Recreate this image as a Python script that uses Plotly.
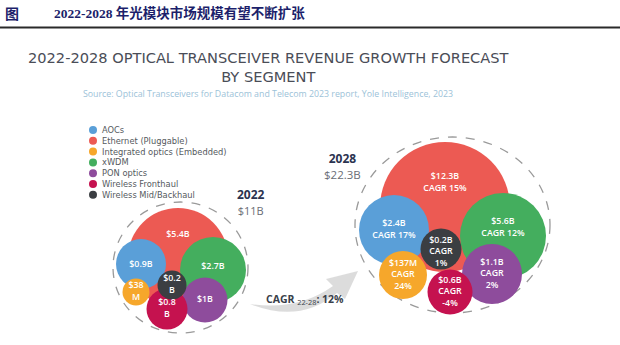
import plotly.graph_objects as go

# ---------------- data ----------------
segments = ["AOCs", "Ethernet (Pluggable)", "Integrated optics (Embedded)", "xWDM",
            "PON optics", "Wireless Fronthaul", "Wireless Mid/Backhaul"]
values_2022 = [0.9, 5.4, 0.038, 2.7, 1.0, 0.8, 0.2]          # $B
values_2028 = [2.4, 12.3, 0.137, 5.6, 1.1, 0.6, 0.2]         # $B
cagr_22_28 = [17, 15, 24, 12, 2, -4, 1]                      # %
total_2022 = 11
total_2028 = 22.3
total_cagr = 12

# ---------------- styles / layout ----------------
colors = ["#5a9fd8", "#ec5a53", "#f6a72b", "#44ae5e", "#8e4c9c", "#c5124f", "#3b3e42"]
draw_order = [1, 0, 3, 4, 2, 5, 6]

# bubble layout (pixel space): centers, diameters
cx22 = [141, 178, 136, 213, 205, 167, 172]
cy22 = [264, 258, 292, 270, 300, 309, 285]
d22 = [50, 100, 27, 66, 45, 41, 29]
lab_dy22 = [1, -23, 0, -3, 0, 0, 0]
wrap22 = [False, False, True, False, False, True, True]

cx28 = [394, 445, 403, 503, 492, 450, 441]
cy28 = [230, 207, 275, 236, 274, 292, 249]
d28 = [70, 130, 48, 86, 60, 45, 41]
lab_dy28 = [0, -24, 0, -8, 0, 0, 3]
wrap28 = [False, False, True, False, True, True, True]

FONT = "Open Sans, Lato, sans-serif"


def money(v, wrap):
    if v < 1 and round(v * 1000) % 100 != 0:
        num, unit = f"{round(v * 1000):d}", "M"
    else:
        s = f"{v:.1f}".rstrip("0").rstrip(".")
        num, unit = s, "B"
    return f"${num}<br>{unit}" if wrap else f"${num}{unit}"


labels22 = [money(v, w) for v, w in zip(values_2022, wrap22)]
labels28 = []
for v, c, w in zip(values_2028, cagr_22_28, wrap28):
    m = money(v, False)
    labels28.append(f"{m}<br>CAGR<br>{c}%" if w else f"{m}<br>CAGR {c}%")

fig = go.Figure()

# bubbles
for cx, cy, d, vals in [(cx22, cy22, d22, values_2022), (cx28, cy28, d28, values_2028)]:
    fig.add_trace(go.Scatter(
        x=[cx[i] for i in draw_order], y=[cy[i] for i in draw_order],
        mode="markers",
        marker=dict(size=[d[i] for i in draw_order], color=[colors[i] for i in draw_order],
                    opacity=1, line=dict(width=0)),
        customdata=[vals[i] for i in draw_order],
        hoverinfo="skip", showlegend=False))

# labels
fig.add_trace(go.Scatter(
    x=cx22, y=[c + o for c, o in zip(cy22, lab_dy22)], mode="text", text=labels22,
    textfont=dict(family=FONT, size=8.8, color="white", weight=600),
    textposition="middle center", hoverinfo="skip", showlegend=False))
fig.add_trace(go.Scatter(
    x=cx28, y=[c + o for c, o in zip(cy28, lab_dy28)], mode="text", text=labels28,
    textfont=dict(family=FONT, size=8.8, color="white", weight=600),
    textposition="middle center", hoverinfo="skip", showlegend=False))

# legend (manual): dots as markers, names as one text block
leg_x, leg_y0, leg_dy = 93, 130, 10.8
fig.add_trace(go.Scatter(
    x=[leg_x] * len(segments), y=[leg_y0 + i * leg_dy for i in range(len(segments))],
    mode="markers", marker=dict(size=8, color=colors),
    hoverinfo="skip", showlegend=False))

shapes = [
    dict(type="line", xref="paper", yref="y", x0=0, x1=1, y0=27.5, y1=27.5,
         line=dict(color="#2a2a2a", width=2)),
    dict(type="circle", xref="x", yref="y", x0=113, x1=248, y0=202, y1=333,
         line=dict(color="#9a9a9a", width=1.3, dash="dash"), layer="below"),
    dict(type="circle", xref="x", yref="y", x0=355, x1=550, y0=137, y1=313,
         line=dict(color="#9a9a9a", width=1.3, dash="dash"), layer="below"),
    dict(type="path", xref="x", yref="y",
         path="M 250,304 Q 300,324 337,293 L 345,299 L 358,271 L 326,279 L 333,286 Q 298,311 250,304 Z",
         fillcolor="rgba(205,205,205,0.7)", line=dict(width=0), layer="below"),
]

ann = [
    dict(x=3, y=13, text="<b>图</b>", xanchor="left",
         font=dict(family="Noto Sans CJK SC", size=14, color="#1c1f6b")),
    dict(x=52, y=13, text="<b>2022-2028 年光模块市场规模有望不断扩张</b>", xanchor="left",
         font=dict(family="Liberation Serif, Noto Sans CJK SC", size=13.5, color="#1c1f6b")),
    dict(x=268, y=67, text="2022-2028 OPTICAL TRANSCEIVER REVENUE GROWTH FORECAST<br>BY SEGMENT",
         font=dict(family="DejaVu Sans", size=14.6, color="#4a4d57")),
    dict(x=268, y=94, text="Source: Optical Transceivers for Datacom and Telecom 2023 report, Yole Intelligence, 2023",
         font=dict(family=FONT, size=8.8, color="#9cc2d8")),
    dict(x=100, y=leg_y0 + leg_dy * (len(segments) - 1) / 2, text="<br>".join(segments),
         xanchor="left", align="left",
         font=dict(family="DejaVu Sans", size=8.3, color="#555a60")),
    dict(x=251, y=202, text="<b>2022</b><br><span style='font-size:11px;color:#6a6d75'>$%sB</span>" % total_2022,
         font=dict(family=FONT, size=12, color="#2b3350")),
    dict(x=342, y=166, text="<b>2028</b><br><span style='font-size:11.5px;color:#6a6d75'>$%sB</span>" % total_2028,
         font=dict(family=FONT, size=12, color="#2b3350")),
    dict(x=305, y=299, text=f"<b>CAGR</b> <sub>22-28</sub><b>: {total_cagr}%</b>",
         font=dict(family=FONT, size=10.5, color="#3a3f4a")),
]
for a in ann:
    a.update(xref="x", yref="y", showarrow=False)
    a.setdefault("xanchor", "center")
    a["yanchor"] = "middle"

fig.update_layout(
    width=620, height=345, margin=dict(l=0, r=0, t=0, b=0),
    paper_bgcolor="white", plot_bgcolor="white",
    xaxis=dict(range=[0, 620], visible=False, fixedrange=True),
    yaxis=dict(range=[345, 0], visible=False, fixedrange=True),
    shapes=shapes, annotations=ann, showlegend=False,
)

fig.write_html("out.html")
